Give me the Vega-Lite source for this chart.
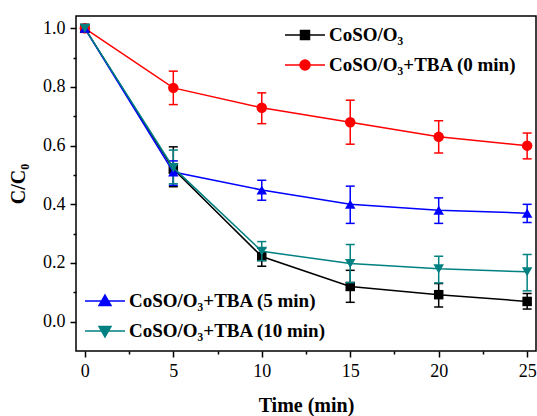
{
  "$schema": "https://vega.github.io/schema/vega-lite/v6.json",
  "width": 460,
  "height": 335,
  "autosize": {"type": "none"},
  "padding": {"left": 76, "top": 16, "right": 1, "bottom": 65},
  "background": "white",
  "config": {"view": {"stroke": "black", "strokeWidth": 1.5}, "font": "Liberation Serif"},
  "data": {
    "values": [
      {"s": "CoSO/O₃", "t": 0, "v": 1.0, "lo": null, "hi": null},
      {"s": "CoSO/O₃", "t": 5, "v": 0.52, "lo": 0.46, "hi": 0.596},
      {"s": "CoSO/O₃", "t": 10, "v": 0.222, "lo": 0.189, "hi": 0.25},
      {"s": "CoSO/O₃", "t": 15, "v": 0.12, "lo": 0.066, "hi": 0.175},
      {"s": "CoSO/O₃", "t": 20, "v": 0.092, "lo": 0.05, "hi": 0.13},
      {"s": "CoSO/O₃", "t": 25, "v": 0.069, "lo": 0.043, "hi": 0.096},
      {"s": "CoSO/O₃+TBA (0 min)", "t": 0, "v": 1.0, "lo": null, "hi": null},
      {"s": "CoSO/O₃+TBA (0 min)", "t": 5, "v": 0.797, "lo": 0.74, "hi": 0.854},
      {"s": "CoSO/O₃+TBA (0 min)", "t": 10, "v": 0.729, "lo": 0.675, "hi": 0.78},
      {"s": "CoSO/O₃+TBA (0 min)", "t": 15, "v": 0.68, "lo": 0.605, "hi": 0.755},
      {"s": "CoSO/O₃+TBA (0 min)", "t": 20, "v": 0.63, "lo": 0.575, "hi": 0.685},
      {"s": "CoSO/O₃+TBA (0 min)", "t": 25, "v": 0.6, "lo": 0.555, "hi": 0.643},
      {"s": "CoSO/O₃+TBA (5 min)", "t": 0, "v": 1.0, "lo": null, "hi": null},
      {"s": "CoSO/O₃+TBA (5 min)", "t": 5, "v": 0.51, "lo": 0.465, "hi": 0.548},
      {"s": "CoSO/O₃+TBA (5 min)", "t": 10, "v": 0.449, "lo": 0.414, "hi": 0.482},
      {"s": "CoSO/O₃+TBA (5 min)", "t": 15, "v": 0.4, "lo": 0.335, "hi": 0.462},
      {"s": "CoSO/O₃+TBA (5 min)", "t": 20, "v": 0.38, "lo": 0.335, "hi": 0.422},
      {"s": "CoSO/O₃+TBA (5 min)", "t": 25, "v": 0.37, "lo": 0.338, "hi": 0.4},
      {"s": "CoSO/O₃+TBA (10 min)", "t": 0, "v": 1.0, "lo": null, "hi": null},
      {"s": "CoSO/O₃+TBA (10 min)", "t": 5, "v": 0.525, "lo": 0.47, "hi": 0.585},
      {"s": "CoSO/O₃+TBA (10 min)", "t": 10, "v": 0.24, "lo": 0.208, "hi": 0.273},
      {"s": "CoSO/O₃+TBA (10 min)", "t": 15, "v": 0.198, "lo": 0.133, "hi": 0.263},
      {"s": "CoSO/O₃+TBA (10 min)", "t": 20, "v": 0.18, "lo": 0.132, "hi": 0.223},
      {"s": "CoSO/O₃+TBA (10 min)", "t": 25, "v": 0.17, "lo": 0.105, "hi": 0.229}
    ]
  },
  "encoding": {
    "x": {
      "field": "t",
      "type": "quantitative",
      "scale": {"domain": [-0.5, 25.5], "nice": false, "zero": false},
      "axis": {
        "values": [0, 2.5, 5, 7.5, 10, 12.5, 15, 17.5, 20, 22.5, 25],
        "labelExpr": "datum.value % 5 === 0 ? format(datum.value, 'd') : ''",
        "tickSize": {"condition": {"test": "datum.value % 5 === 0", "value": 6}, "value": 3},
        "tickColor": "black",
        "tickWidth": 1.5,
        "domain": false,
        "grid": false,
        "labelFont": "Liberation Serif",
        "labelFontSize": 18,
        "labelColor": "black",
        "labelPadding": 5,
        "title": "Time (min)",
        "titleFont": "Liberation Serif",
        "titleFontSize": 20,
        "titleFontWeight": "bold",
        "titleColor": "black",
        "titlePadding": 15
      }
    },
    "y": {
      "field": "v",
      "type": "quantitative",
      "scale": {"domain": [-0.1, 1.042], "nice": false, "zero": false},
      "axis": {
        "values": [0, 0.1, 0.2, 0.3, 0.4, 0.5, 0.6, 0.7, 0.8, 0.9, 1.0],
        "labelExpr": "round(datum.value * 10) % 2 === 0 ? format(datum.value, '.1f') : ''",
        "tickSize": {"condition": {"test": "round(datum.value * 10) % 2 === 0", "value": 6}, "value": 3},
        "tickColor": "black",
        "tickWidth": 1.5,
        "domain": false,
        "grid": false,
        "labelFont": "Liberation Serif",
        "labelFontSize": 18,
        "labelColor": "black",
        "labelPadding": 5,
        "title": "C/C₀",
        "titleFont": "Liberation Serif",
        "titleFontSize": 20,
        "titleFontWeight": "bold",
        "titleColor": "black",
        "titlePadding": 14
      }
    }
  },
  "layer": [
    {
      "transform": [{"filter": "datum.s === 'CoSO/O₃' || datum.s === 'CoSO/O₃+TBA (0 min)'"}],
      "encoding": {
        "color": {
          "field": "s",
          "type": "nominal",
          "scale": {"domain": ["CoSO/O₃", "CoSO/O₃+TBA (0 min)"], "range": ["#000000", "#ff0000"]},
          "legend": {
            "orient": "none",
            "legendX": 218,
            "legendY": 8,
            "title": null,
            "padding": 0,
            "symbolSize": 400,
            "labelFont": "Liberation Serif",
            "labelFontSize": 19,
            "labelFontWeight": "bold",
            "labelColor": "black",
            "labelOffset": 13,
            "labelLimit": 400,
            "rowPadding": 9,
            "encode": {
              "symbols": {
                "update": {
                  "shape": [
                    {"test": "datum.value === 'CoSO/O₃'", "value": "M-2,0H2M-0.45,-0.45H0.45V0.45H-0.45Z"},
                    {"value": "M-2,0H2M0.5,0A0.5,0.5 0 1,1 -0.5,0A0.5,0.5 0 1,1 0.5,0Z"}
                  ],
                  "stroke": [{"test": "datum.value === 'CoSO/O₃'", "value": "#000000"}, {"value": "#ff0000"}],
                  "fill": [{"test": "datum.value === 'CoSO/O₃'", "value": "#000000"}, {"value": "#ff0000"}],
                  "strokeWidth": {"value": 1.5},
                  "opacity": {"value": 1},
                  "fillOpacity": {"value": 1},
                  "strokeOpacity": {"value": 1}
                }
              }
            }
          }
        }
      },
      "layer": [
        {
          "mark": {"type": "rule", "strokeWidth": 1.5},
          "encoding": {
            "y": {"field": "lo", "type": "quantitative"},
            "y2": {"field": "hi"}
          }
        },
        {
          "mark": {"type": "tick", "orient": "horizontal", "size": 9, "thickness": 1.5, "opacity": 1},
          "encoding": {"y": {"field": "lo", "type": "quantitative"}}
        },
        {
          "mark": {"type": "tick", "orient": "horizontal", "size": 9, "thickness": 1.5, "opacity": 1},
          "encoding": {"y": {"field": "hi", "type": "quantitative"}}
        },
        {
          "mark": {"type": "line", "strokeWidth": 1.5}
        },
        {
          "transform": [{"filter": "datum.s === 'CoSO/O₃'"}],
          "mark": {"type": "point", "shape": "square", "filled": true, "size": 90, "opacity": 1, "strokeWidth": 0}
        },
        {
          "transform": [{"filter": "datum.s === 'CoSO/O₃+TBA (0 min)'"}],
          "mark": {"type": "point", "shape": "circle", "filled": true, "size": 110, "opacity": 1, "strokeWidth": 0}
        }
      ]
    },
    {
      "transform": [{"filter": "datum.s === 'CoSO/O₃+TBA (5 min)' || datum.s === 'CoSO/O₃+TBA (10 min)'"}],
      "encoding": {
        "color": {
          "field": "s",
          "type": "nominal",
          "scale": {"domain": ["CoSO/O₃+TBA (5 min)", "CoSO/O₃+TBA (10 min)"], "range": ["#0000ff", "#008080"]},
          "legend": {
            "orient": "none",
            "legendX": 18,
            "legendY": 274,
            "title": null,
            "padding": 0,
            "symbolSize": 400,
            "labelFont": "Liberation Serif",
            "labelFontSize": 19,
            "labelFontWeight": "bold",
            "labelColor": "black",
            "labelOffset": 13,
            "labelLimit": 400,
            "rowPadding": 9,
            "encode": {
              "symbols": {
                "update": {
                  "shape": [
                    {"test": "datum.value === 'CoSO/O₃+TBA (5 min)'", "value": "M-2,0H2M0,-0.6L0.6,0.45H-0.6Z"},
                    {"value": "M-2,0H2M0,0.6L0.6,-0.45H-0.6Z"}
                  ],
                  "stroke": [{"test": "datum.value === 'CoSO/O₃+TBA (5 min)'", "value": "#0000ff"}, {"value": "#008080"}],
                  "fill": [{"test": "datum.value === 'CoSO/O₃+TBA (5 min)'", "value": "#0000ff"}, {"value": "#008080"}],
                  "strokeWidth": {"value": 1.5},
                  "opacity": {"value": 1},
                  "fillOpacity": {"value": 1},
                  "strokeOpacity": {"value": 1}
                }
              }
            }
          }
        }
      },
      "layer": [
        {
          "mark": {"type": "rule", "strokeWidth": 1.5},
          "encoding": {
            "y": {"field": "lo", "type": "quantitative"},
            "y2": {"field": "hi"}
          }
        },
        {
          "mark": {"type": "tick", "orient": "horizontal", "size": 9, "thickness": 1.5, "opacity": 1},
          "encoding": {"y": {"field": "lo", "type": "quantitative"}}
        },
        {
          "mark": {"type": "tick", "orient": "horizontal", "size": 9, "thickness": 1.5, "opacity": 1},
          "encoding": {"y": {"field": "hi", "type": "quantitative"}}
        },
        {
          "mark": {"type": "line", "strokeWidth": 1.5}
        },
        {
          "transform": [{"filter": "datum.s === 'CoSO/O₃+TBA (5 min)'"}],
          "mark": {"type": "point", "shape": "triangle-up", "filled": true, "size": 110, "opacity": 1, "strokeWidth": 0}
        },
        {
          "transform": [{"filter": "datum.s === 'CoSO/O₃+TBA (10 min)'"}],
          "mark": {"type": "point", "shape": "triangle-down", "filled": true, "size": 110, "opacity": 1, "strokeWidth": 0}
        }
      ]
    }
  ],
  "resolve": {"scale": {"color": "independent"}}
}
